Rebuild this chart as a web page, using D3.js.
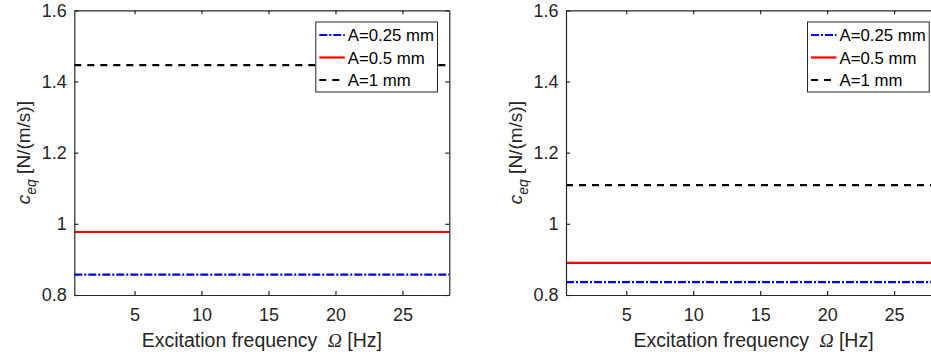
<!DOCTYPE html>
<html><head><meta charset="utf-8">
<script src="https://cdn.jsdelivr.net/npm/d3@7"></script>
<style>
body{margin:0;background:#fff;}
svg{display:block;font-family:"Liberation Sans",Arial,Helvetica,sans-serif;}
</style></head>
<body>
<svg id="chart" width="931" height="356"></svg>
<script>
// Data
const seriesNames = ["A=0.25 mm", "A=0.5 mm", "A=1 mm"];
const seriesColors = ["#0000ff", "#ff0000", "#000000"];
const seriesDash = ["8,2,2,2", null, "7,6"];
const freqRange = [0.5, 28.5];          // x-axis extent (Hz)
const leftValues = [0.857, 0.977, 1.446];   // c_eq, left panel
const rightValues = [0.836, 0.890, 1.109];  // c_eq, right panel
const xTicks = [5, 10, 15, 20, 25];
const yTicks = [0.8, 1.0, 1.2, 1.4, 1.6];
const yTickLabels = ["0.8", "1", "1.2", "1.4", "1.6"];

const svg = d3.select("#chart");
const ink = "#262626";

function panel(x0, values) {
  const W = 375, top = 10.3, bottom = 295;
  const x = d3.scaleLinear().domain(freqRange).range([x0, x0 + W]);
  const y = d3.scaleLinear().domain([0.8, 1.6]).range([bottom, top]);
  const g = svg.append("g");

  // data lines
  values.forEach((v, i) => {
    const line = d3.line().x(d => x(d[0])).y(d => y(d[1]));
    g.append("path")
      .attr("d", line([[freqRange[0], v], [freqRange[1], v]]))
      .attr("fill", "none")
      .attr("stroke", seriesColors[i])
      .attr("stroke-width", 2.2)
      .attr("stroke-dasharray", seriesDash[i]);
  });

  // axes (MATLAB-like, ticks inward, box on)
  const tl = 4;
  const xb = g.append("g").attr("transform", `translate(0,${bottom})`)
    .call(d3.axisBottom(x).tickValues(xTicks).tickSizeInner(-tl).tickSizeOuter(0).tickPadding(13.5));
  const xt = g.append("g").attr("transform", `translate(0,${top})`)
    .call(d3.axisTop(x).tickValues(xTicks).tickSizeInner(-tl).tickSizeOuter(0).tickFormat(""));
  const yl = g.append("g").attr("transform", `translate(${x0},0)`)
    .call(d3.axisLeft(y).tickValues(yTicks).tickSizeInner(-tl).tickSizeOuter(0).tickPadding(7.5)
      .tickFormat((d, i) => yTickLabels[i]));
  const yr = g.append("g").attr("transform", `translate(${x0 + W},0)`)
    .call(d3.axisRight(y).tickValues(yTicks).tickSizeInner(-tl).tickSizeOuter(0).tickFormat(""));
  [xb, xt, yl, yr].forEach(a => {
    a.selectAll("path,line").attr("stroke", ink).attr("stroke-width", 1.2);
    a.selectAll("text").attr("fill", ink).style("font-size", "18px")
      .style("font-family", '"Liberation Sans",Arial,sans-serif');
  });
  xb.selectAll("text").attr("dy", "0.71em");

  // x label
  const xl = g.append("text").attr("x", x0 + W / 2).attr("y", 346.5)
    .attr("text-anchor", "middle").attr("fill", ink).style("font-size", "19.5px");
  xl.append("tspan").text("Excitation frequency ");
  xl.append("tspan").text("Ω").attr("dx", 5).style("font-family", '"Liberation Serif","Times New Roman",serif')
    .style("font-style", "italic");
  xl.append("tspan").text(" [Hz]");

  // y label
  const ylab = g.append("text")
    .attr("transform", `translate(${x0 - 44},${(top + bottom) / 2}) rotate(-90)`)
    .attr("text-anchor", "middle").attr("fill", ink).style("font-size", "19px");
  ylab.append("tspan").text("c").style("font-style", "italic");
  ylab.append("tspan").text("eq").style("font-style", "italic").style("font-size", "14px").attr("dy", 6);
  ylab.append("tspan").text(" [N/(m/s)]").attr("dy", -6);

  // legend
  const lx = x0 + W - 133.5, ly = 22;
  const lg = g.append("g");
  lg.append("rect").attr("x", lx).attr("y", ly).attr("width", 121.7).attr("height", 70)
    .attr("fill", "#fff").attr("stroke", ink).attr("stroke-width", 1);
  seriesNames.forEach((name, i) => {
    const cy = ly + 13 + i * 22.5;
    lg.append("line").attr("x1", lx + 3.5).attr("x2", lx + 29).attr("y1", cy).attr("y2", cy)
      .attr("stroke", seriesColors[i]).attr("stroke-width", 2.2)
      .attr("stroke-dasharray", seriesDash[i]);
    lg.append("text").attr("x", lx + 32).attr("y", cy).attr("dy", "0.36em")
      .attr("fill", "#000").style("font-size", "16.8px").text(name);
  });
}

panel(74.3, leftValues);
panel(566, rightValues);
</script>
</body></html>
